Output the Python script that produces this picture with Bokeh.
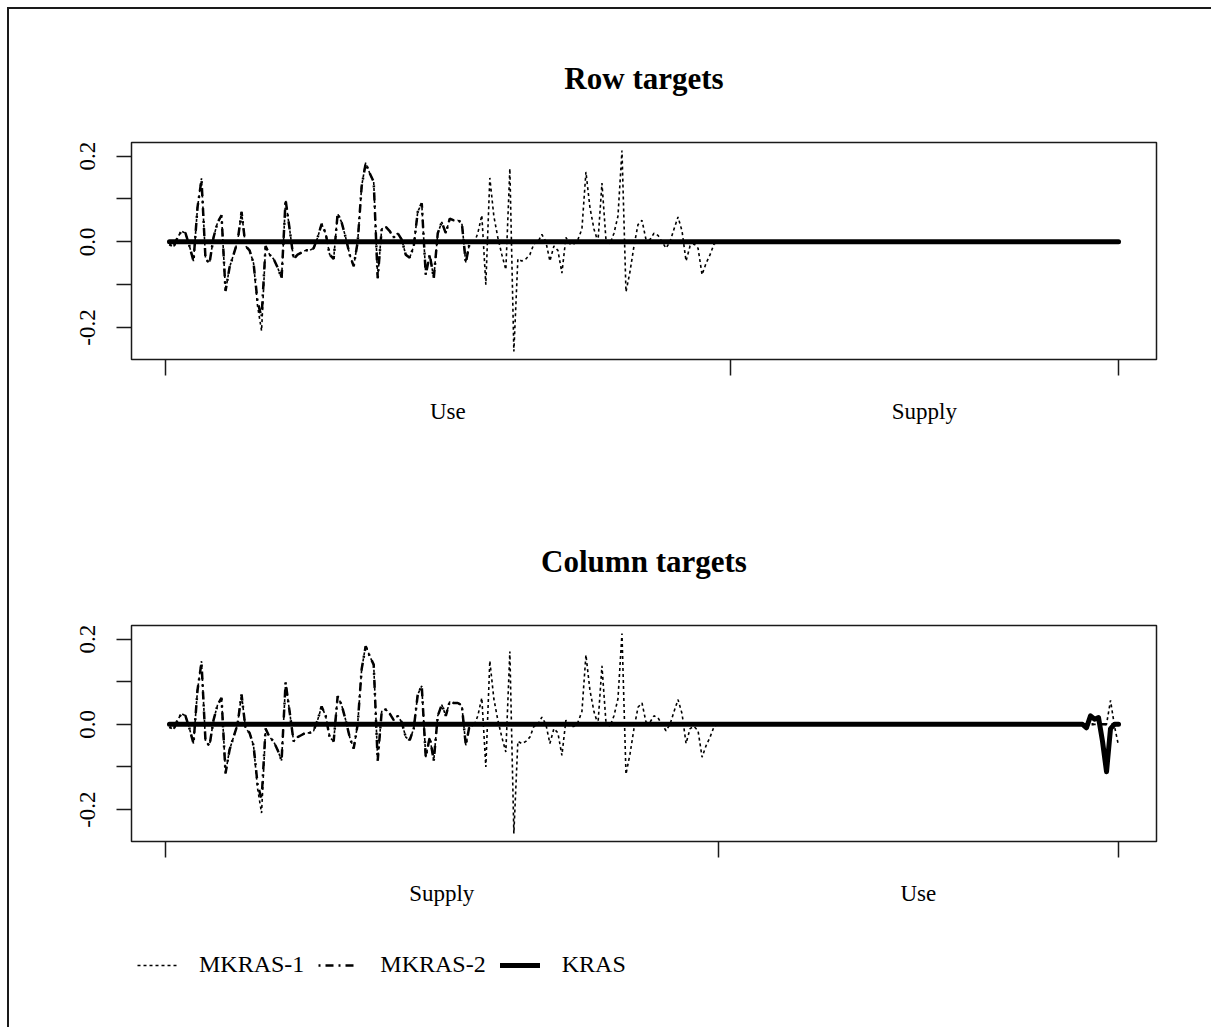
import numpy as np
from bokeh.plotting import figure
from bokeh.models import (Range1d, LinearAxis, FixedTicker, NumeralTickFormatter,
                          Legend, LegendItem)
from bokeh.layouts import column
from bokeh.embed import file_html
from bokeh.resources import INLINE

FONT = "Liberation Serif"
INK = "#1a1a1a"

# ---------------- data ----------------
# index positions of the observations (1..137 carry the MKRAS-1 values)
m1_index = list(range(1, 138))
mkras1 = [
    -0.006, -0.013, 0.010, 0.025, 0.020, -0.010, -0.045, 0.080, 0.148, -0.040,
    -0.050, 0.010, 0.045, 0.062, -0.115, -0.060, -0.030, 0.000, 0.070, -0.010,
    -0.020, -0.050, -0.150, -0.208, -0.010, -0.030, -0.040, -0.060, -0.085, 0.098,
    0.030, -0.040, -0.030, -0.025, -0.020, -0.020, -0.015, 0.010, 0.042, 0.020,
    -0.030, -0.040, 0.066, 0.045, 0.010, -0.030, -0.057, 0.000, 0.130, 0.185,
    0.160, 0.140, -0.085, 0.030, 0.035, 0.025, 0.010, 0.020, 0.005, -0.030,
    -0.037, -0.010, 0.070, 0.090, -0.077, -0.030, -0.085, 0.020, 0.046, 0.020,
    0.054, 0.050, 0.050, 0.045, -0.049, 0.000, -0.005, 0.020, 0.062, -0.100,
    0.149, 0.060, 0.010, -0.030, -0.065, 0.171, -0.256, -0.040, -0.045, -0.040,
    -0.030, -0.005, 0.000, 0.017, 0.000, -0.045, -0.010, -0.020, -0.073, 0.010,
    -0.005, -0.005, 0.005, 0.030, 0.163, 0.080, 0.030, 0.000, 0.137, 0.005,
    -0.005, 0.020, 0.060, 0.213, -0.117, -0.070, -0.010, 0.040, 0.050, 0.005,
    0.005, 0.020, 0.015, 0.000, -0.015, 0.000, 0.030, 0.058, 0.025, -0.045,
    -0.010, -0.005, -0.015, -0.077, -0.050, -0.030, -0.005,
]
# tail of MKRAS-1 (row targets: flat zero to the end)
m1_row_tail_x = [138, 238]
m1_row_tail_y = [0.0, 0.0]
# tail of MKRAS-1 (column targets: small wiggle at the far right)
m1_col_tail_x = [138, 235, 236, 237, 238]
m1_col_tail_y = [0.000, 0.000, 0.056, -0.005, -0.050]

m2_index = list(range(1, 76))
mkras2 = [
    -0.006, -0.013, 0.010, 0.025, 0.020, -0.010, -0.045, 0.080, 0.145, -0.040,
    -0.050, 0.010, 0.045, 0.062, -0.115, -0.060, -0.030, 0.000, 0.070, -0.010,
    -0.020, -0.050, -0.140, -0.176, -0.010, -0.030, -0.040, -0.060, -0.085, 0.098,
    0.030, -0.040, -0.030, -0.025, -0.020, -0.020, -0.015, 0.010, 0.042, 0.020,
    -0.030, -0.040, 0.066, 0.045, 0.010, -0.030, -0.057, 0.000, 0.130, 0.183,
    0.160, 0.140, -0.085, 0.030, 0.035, 0.025, 0.010, 0.020, 0.005, -0.030,
    -0.037, -0.010, 0.070, 0.090, -0.077, -0.030, -0.085, 0.020, 0.046, 0.020,
    0.054, 0.050, 0.050, 0.045, -0.049,
]
m2_tail_x = [76, 238]
m2_tail_y = [0.0, 0.0]

kras_row_x = [1, 238]
kras_row_y = [0.0, 0.0]
kras_col_x = [1, 229, 230, 231, 232, 233, 234, 235, 236, 237, 238]
kras_col_y = [0.0, 0.0, -0.008, 0.020, 0.012, 0.016, -0.040, -0.111, -0.010, 0.0, 0.0]

n_obs = 238
y_ticks = [-0.2, 0.0, 0.2]
y_minor = [-0.1, 0.1]

row_bounds = [0, 141, 238]
row_labels = ["Use", "Supply"]
col_bounds = [0, 138, 238]
col_labels = ["Supply", "Use"]

series_names = ["MKRAS-1", "MKRAS-2", "KRAS"]

# R-style 4% padding of the ranges
all_y = mkras1 + mkras2 + kras_col_y + m1_col_tail_y
ypad = 0.04 * (max(all_y) - min(all_y))
xpad = 0.04 * (n_obs - 1)

STYLES = [dict(line_color="black", line_width=1.6, line_dash="3 3"),
          dict(line_color="black", line_width=2.5, line_dash="2 5 8 5"),
          dict(line_color="black", line_width=5, line_cap="round", line_join="round")]

W = 1202


def make_panel(title, bounds, labels, m1x, m1y, m2x, m2y, kx, ky, height, top, bottom):
    p = figure(width=W, height=height, output_backend="svg", toolbar_location=None,
               x_range=Range1d(1 - xpad, n_obs + xpad),
               y_range=Range1d(min(all_y) - ypad, max(all_y) + ypad),
               x_axis_location=None, y_axis_location=None,
               min_border_left=122, min_border_right=55,
               min_border_top=top, min_border_bottom=bottom)
    p.xgrid.visible = False
    p.ygrid.visible = False
    p.outline_line_color = INK
    p.outline_line_width = 1.5
    p.background_fill_color = "white"
    p.border_fill_color = "white"

    p.title.text = title
    p.title.align = "center"
    p.title.text_font = FONT
    p.title.text_font_style = "bold"
    p.title.text_font_size = "31px"
    p.title.text_color = "black"
    p.title.standoff = 93

    yax = LinearAxis(ticker=FixedTicker(ticks=y_ticks, minor_ticks=y_minor),
                     formatter=NumeralTickFormatter(format="0.0"),
                     major_tick_in=0, major_tick_out=15,
                     minor_tick_in=0, minor_tick_out=15,
                     major_tick_line_color=INK, minor_tick_line_color=INK,
                     major_tick_line_width=1.5, minor_tick_line_width=1.5,
                     axis_line_color=None,
                     major_label_orientation="vertical",
                     major_label_text_font=FONT, major_label_text_font_size="23px",
                     major_label_text_color="black", major_label_standoff=21)
    p.add_layout(yax, "left")

    xa = LinearAxis(ticker=FixedTicker(ticks=bounds),
                    major_tick_in=0, major_tick_out=16,
                    major_tick_line_color=INK, major_tick_line_width=1.5,
                    minor_tick_line_color=None, axis_line_color=None,
                    major_label_text_font_size="1px", major_label_standoff=0,
                    major_label_text_alpha=0)
    p.add_layout(xa, "below")
    mids = [(bounds[0] + bounds[1]) / 2, (bounds[1] + bounds[2]) / 2]
    xb = LinearAxis(ticker=FixedTicker(ticks=mids),
                    major_label_overrides={m: l for m, l in zip(mids, labels)},
                    major_tick_in=0, major_tick_out=0, minor_tick_line_color=None,
                    axis_line_color=None,
                    major_label_text_font=FONT, major_label_text_font_size="23px",
                    major_label_text_color="black", major_label_standoff=23)
    p.add_layout(xb, "below")

    rends = []
    for (xs, ys), st in zip([(m1x, m1y), (m2x, m2y), (kx, ky)], STYLES):
        rends.append(p.line(xs, ys, **st))
    return p, rends


p1, _ = make_panel("Row targets", row_bounds, row_labels,
                   m1_index + m1_row_tail_x, mkras1 + m1_row_tail_y,
                   m2_index + m2_tail_x, mkras2 + m2_tail_y,
                   kras_row_x, kras_row_y, 472, 133, 122)
p2, _ = make_panel("Column targets", col_bounds, col_labels,
                   m1_index + m1_col_tail_x, mkras1 + m1_col_tail_y,
                   m2_index + m2_tail_x, mkras2 + m2_tail_y,
                   kras_col_x, kras_col_y, 440, 144, 80)

# legend strip below the second panel (legend-only renderers hold no visible data)
p3 = figure(width=W, height=106, output_backend="svg", toolbar_location=None,
            x_range=Range1d(0, 1), y_range=Range1d(0, 1),
            x_axis_location=None, y_axis_location=None, min_border=0)
p3.xgrid.visible = False
p3.ygrid.visible = False
p3.outline_line_color = None
legend_rends = [p3.line(np.array([np.nan]), np.array([np.nan]), **st) for st in STYLES]
legend = Legend(items=[LegendItem(label=n, renderers=[r]) for n, r in zip(series_names, legend_rends)],
                orientation="horizontal", location=(6, 49),
                glyph_width=40, glyph_height=20, label_standoff=22, spacing=14,
                padding=0, margin=0, border_line_color=None, background_fill_alpha=0,
                label_text_font=FONT, label_text_font_size="24px", label_text_color="black")
p3.add_layout(legend, "center")

layout = column(p1, p2, p3, styles={"margin-left": "7px", "margin-top": "7px",
                                    "border-left": "2px solid #1a1a1a",
                                    "border-top": "2px solid #1a1a1a"})

with open("out.html", "w") as f:
    f.write(file_html(layout, INLINE))
